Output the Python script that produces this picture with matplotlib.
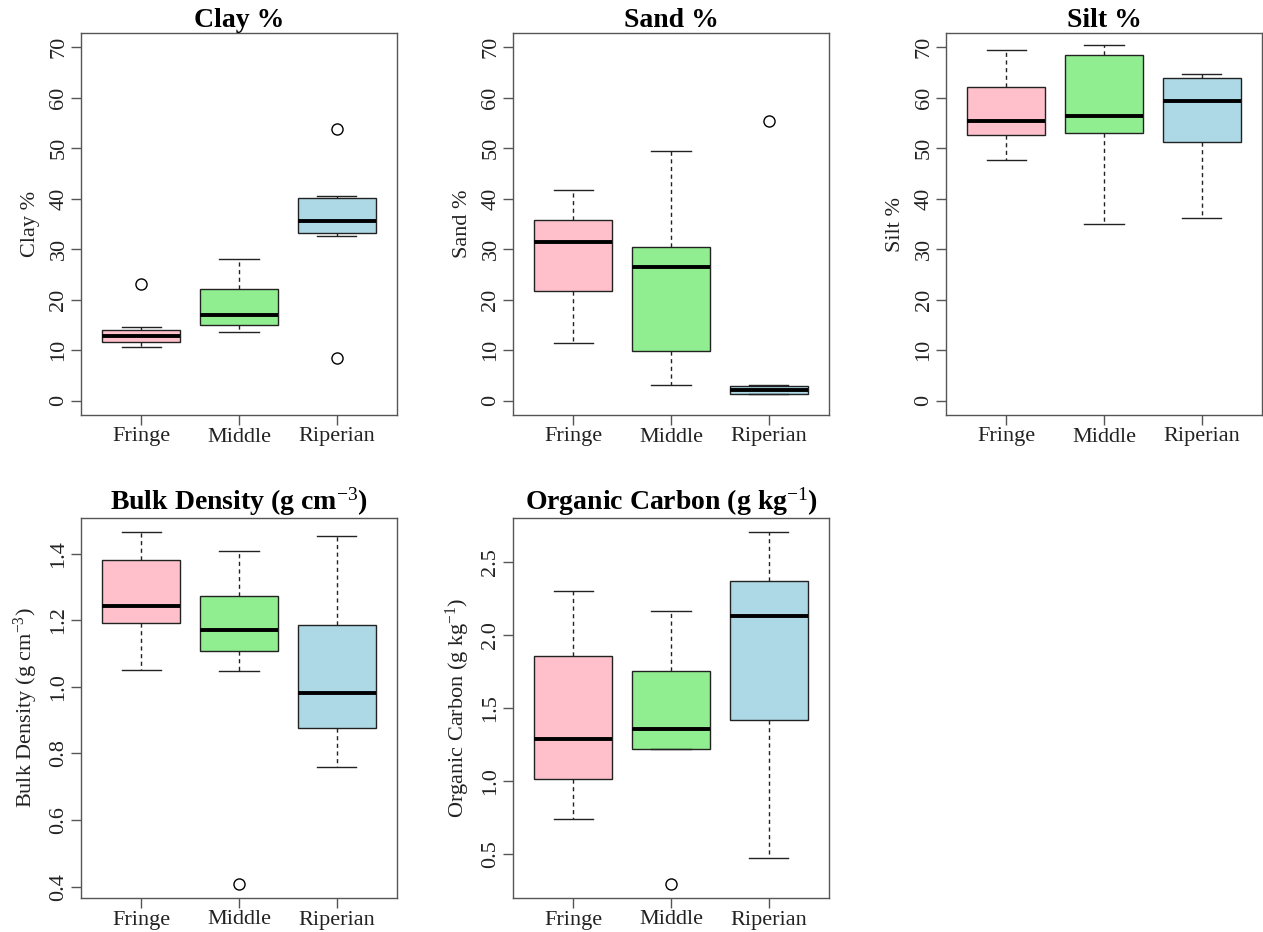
import matplotlib.pyplot as plt

plt.rcParams['font.family'] = ['Liberation Serif', 'DejaVu Serif']
plt.rcParams['mathtext.fontset'] = 'custom'
plt.rcParams['mathtext.rm'] = 'Liberation Serif'
plt.rcParams['mathtext.it'] = 'Liberation Serif:italic'
plt.rcParams['mathtext.bf'] = 'Liberation Serif:bold'

sites = ["Fringe", "Middle", "Riperian"]
fills = ["pink", "lightgreen", "lightblue"]

# five-number summaries per site: whisker low, Q1, median, Q3, whisker high
clay = [[10.6, 11.7, 12.9, 14.0, 14.7],
        [13.6, 15.0, 16.9, 22.1, 28.0],
        [32.7, 33.2, 35.5, 40.2, 40.5]]
clay_out = [[23.2], [], [53.9, 8.5]]

sand = [[11.4, 21.8, 31.5, 35.7, 41.8],
        [3.2, 9.9, 26.5, 30.5, 49.5],
        [1.3, 1.3, 2.1, 3.0, 3.15]]
sand_out = [[], [], [55.3]]

silt = [[47.6, 52.7, 55.4, 62.2, 69.4],
        [35.0, 53.0, 56.4, 68.4, 70.4],
        [36.2, 51.2, 59.3, 63.9, 64.6]]
silt_out = [[], [], []]

bulk = [[1.050, 1.192, 1.243, 1.382, 1.465],
        [1.048, 1.109, 1.171, 1.272, 1.408],
        [0.758, 0.876, 0.981, 1.186, 1.453]]
bulk_out = [[], [0.408], []]

oc = [[0.743, 1.014, 1.287, 1.858, 2.300],
      [1.217, 1.217, 1.356, 1.756, 2.163],
      [0.473, 1.421, 2.131, 2.368, 2.705]]
oc_out = [[], [0.295], []]

W, H = 1263, 932
fig = plt.figure(figsize=(W / 100, H / 100), dpi=100)


def make_stats(summ, outs):
    res = []
    for s, o, name in zip(summ, outs, sites):
        res.append(dict(whislo=s[0], q1=s[1], med=s[2], q3=s[3], whishi=s[4],
                        fliers=o, label=name))
    return res


def panel(rect, title, ylabel, summ, outs, yticks, ylim=None):
    l, t, r, b = rect
    ax = fig.add_axes([l / W, 1 - b / H, (r - l) / W, (b - t) / H])
    bp = ax.bxp(make_stats(summ, outs), positions=[1, 2, 3], widths=0.8,
                capwidths=0.4, patch_artist=True,
                boxprops=dict(edgecolor='#222222', linewidth=1),
                whiskerprops=dict(linestyle=(0, (3, 2.5)), color='#222222', linewidth=1),
                capprops=dict(color='#222222', linewidth=1),
                medianprops=dict(color='black', linewidth=2.8, solid_capstyle='butt'),
                flierprops=dict(marker='o', markerfacecolor='none', markeredgecolor='black',
                                markersize=8, markeredgewidth=1))
    for patch, c in zip(bp['boxes'], fills):
        patch.set_facecolor(c)

    # R-style 4% padding around the data when no limits are given
    if ylim is None:
        vals = [v for s in summ for v in s] + [v for o in outs for v in o]
        lo, hi = min(vals), max(vals)
        pad = (hi - lo) * 0.04
        ylim = (lo - pad, hi + pad)
    ax.set_ylim(ylim)
    ax.set_xlim(0.38, 3.62)
    ax.set_xticks([1, 2, 3], sites)
    ax.set_yticks(yticks)
    ax.set_yticklabels([f"{v:g}" if abs(v) >= 10 or v == 0 else f"{v:.1f}" for v in yticks],
                       rotation=90, va='center')
    ax.tick_params(axis='both', length=7, width=1, color='#555555',
                   labelsize=16, labelcolor='#222222')
    ax.tick_params(axis='y', pad=2)
    ax.tick_params(axis='x', pad=2)
    for sp in ax.spines.values():
        sp.set_color('#555555')
        sp.set_linewidth(1)
    ax.set_title(title, fontsize=20, fontweight='bold', pad=4)
    ax.set_ylabel(ylabel, fontsize=16, color='#222222', labelpad=7)
    return ax


pct_ticks = [0, 10, 20, 30, 40, 50, 60, 70]
panel((81, 33, 397, 415), "Clay %", "Clay %", clay, clay_out, pct_ticks, (-2.8, 72.8))
panel((513, 33, 829, 415), "Sand %", "Sand %", sand, sand_out, pct_ticks, (-2.8, 72.8))
panel((946, 33, 1262, 415), "Silt %", "Silt %", silt, silt_out, pct_ticks, (-2.8, 72.8))
panel((81, 518, 397, 898), r"Bulk Density (g cm$^{-3}$)", r"Bulk Density (g cm$^{-3}$)",
      bulk, bulk_out, [0.4, 0.6, 0.8, 1.0, 1.2, 1.4])
panel((513, 518, 829, 898), r"Organic Carbon (g kg$^{-1}$)", r"Organic Carbon (g kg$^{-1}$)",
      oc, oc_out, [0.5, 1.0, 1.5, 2.0, 2.5])

fig.savefig("out.png", dpi=100)
